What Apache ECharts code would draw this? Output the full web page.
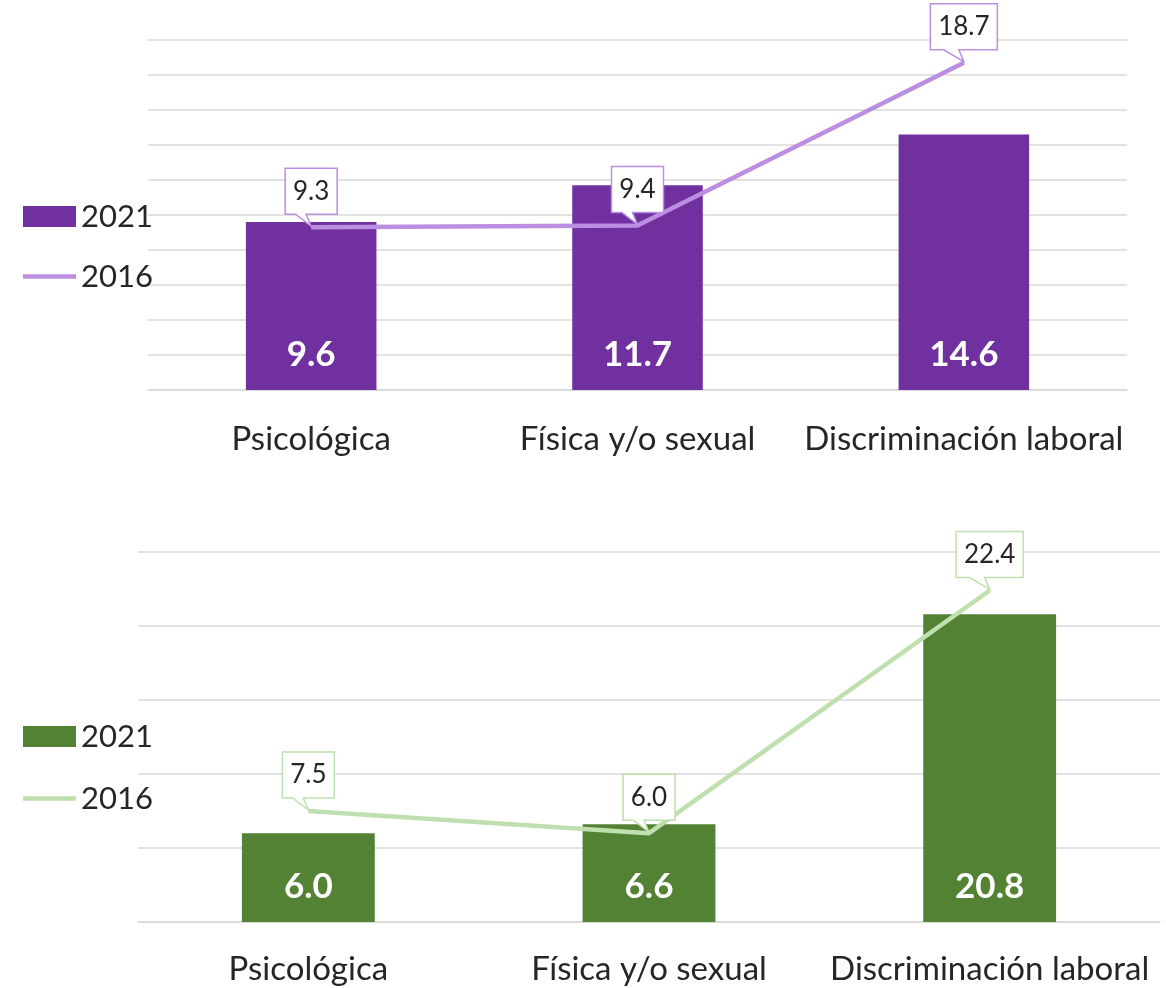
<!DOCTYPE html>
<html>
<head>
<meta charset="utf-8">
<script src="https://cdn.jsdelivr.net/npm/echarts@6/dist/echarts.min.js"></script>
<style>
  html, body { margin: 0; padding: 0; background: #fff; }
  .chart { width: 1166px; height: 494px; }
</style>
</head>
<body>
<div id="chartTop" class="chart"></div>
<div id="chartBottom" class="chart"></div>
<script>
// datos
const categories = ['Psicológica', 'Física y/o sexual', 'Discriminación laboral'];
const legendNames = ['2021', '2016'];

const top2021 = [9.6, 11.7, 14.6];
const top2016 = [9.3, 9.4, 18.7];

const bottom2021 = [6.0, 6.6, 20.8];
const bottom2016 = [7.5, 6.0, 22.4];

const topScale = { min: 0, max: 20, interval: 2 };
const bottomScale = { min: 0, max: 25, interval: 5 };

const FONT = 'Lato';
const measureCtx = document.createElement('canvas').getContext('2d');

// etiqueta tipo "globo" con la punta sobre el punto de la línea
function calloutRenderer(borderColor) {
    return function (params, api) {
        const val = api.value(1);
        const pt = api.coord([api.value(0), val]);
        const text = val.toFixed(1);
        measureCtx.font = '26px ' + FONT;
        const w = Math.round(measureCtx.measureText(text).width) + 16;
        const h = 46;
        const gap = 13;
        const cx = pt[0];
        const bottom = pt[1] - gap;
        const top = bottom - h;
        return {
            type: 'group',
            children: [{
                type: 'polygon',
                shape: {
                    points: [
                        [cx - w / 2, top], [cx + w / 2, top], [cx + w / 2, bottom],
                        [cx - 5, bottom], [cx, pt[1] - 1], [cx - w * 0.3, bottom],
                        [cx - w / 2, bottom]
                    ]
                },
                style: { fill: '#ffffff', stroke: borderColor, lineWidth: 1.5 }
            }, {
                type: 'text',
                style: {
                    text: text,
                    x: cx,
                    y: (top + bottom) / 2,
                    align: 'center',
                    verticalAlign: 'middle',
                    fontSize: 26,
                    fontFamily: FONT,
                    fill: '#262626'
                }
            }]
        };
    };
}

function buildOption(cfg) {
    return {
        animation: false,
        backgroundColor: '#ffffff',
        legend: {
            orient: 'vertical',
            left: 18,
            top: cfg.legendTop,
            itemWidth: 53,
            itemHeight: 21,
            itemGap: cfg.legendGap,
            selectedMode: false,
            textStyle: { fontSize: 31, fontFamily: FONT, color: '#262626' },
            data: [
                { name: legendNames[0], icon: 'rect' },
                { name: legendNames[1], icon: 'path://M0,0H53V4.5H0Z' }
            ]
        },
        grid: cfg.grid,
        xAxis: {
            type: 'category',
            data: categories,
            axisLine: { lineStyle: { color: '#d9d9d9', width: 1.5 } },
            axisTick: { length: 14, lineStyle: { color: '#d9d9d9', width: 1.5 } },
            axisLabel: {
                fontSize: 33,
                fontFamily: FONT,
                color: '#262626',
                margin: cfg.labelMargin,
                interval: 0
            }
        },
        yAxis: {
            type: 'value',
            min: cfg.scale.min,
            max: cfg.scale.max,
            interval: cfg.scale.interval,
            axisLabel: { show: false },
            axisLine: { show: false },
            axisTick: { show: false },
            splitLine: { lineStyle: { color: '#d9d9d9', width: 1.5 } }
        },
        series: [{
            name: legendNames[0],
            type: 'bar',
            data: cfg.bars,
            barWidth: cfg.barWidth,
            itemStyle: { color: cfg.barColor },
            label: {
                show: true,
                position: 'insideBottom',
                distance: 18,
                fontSize: 35,
                fontWeight: 'bold',
                fontFamily: FONT,
                color: '#ffffff',
                formatter: p => p.value.toFixed(1)
            },
            z: 2
        }, {
            name: legendNames[1],
            type: 'line',
            data: cfg.line,
            symbol: 'none',
            lineStyle: { color: cfg.lineColor, width: 4.5 },
            itemStyle: { color: cfg.lineColor },
            z: 3
        }, {
            name: 'etiquetas',
            type: 'custom',
            data: cfg.line.map((v, i) => [i, v]),
            renderItem: calloutRenderer(cfg.lineColor),
            z: 4,
            silent: true
        }]
    };
}

const chartTop = echarts.init(document.getElementById('chartTop'));
chartTop.setOption(buildOption({
    legendTop: 196,
    legendGap: 29,
    grid: { left: 148, right: 39, top: 40, height: 350 },
    labelMargin: 33,
    scale: topScale,
    bars: top2021,
    line: top2016,
    barWidth: '40%',
    barColor: '#7030a0',
    lineColor: '#bb8ee0'
}));

const chartBottom = echarts.init(document.getElementById('chartBottom'));
chartBottom.setOption(buildOption({
    legendTop: 222,
    legendGap: 31,
    grid: { left: 138, right: 6, top: 58, height: 370 },
    labelMargin: 31,
    scale: bottomScale,
    bars: bottom2021,
    line: bottom2016,
    barWidth: '39%',
    barColor: '#548235',
    lineColor: '#bfe0ae'
}));
</script>
</body>
</html>
